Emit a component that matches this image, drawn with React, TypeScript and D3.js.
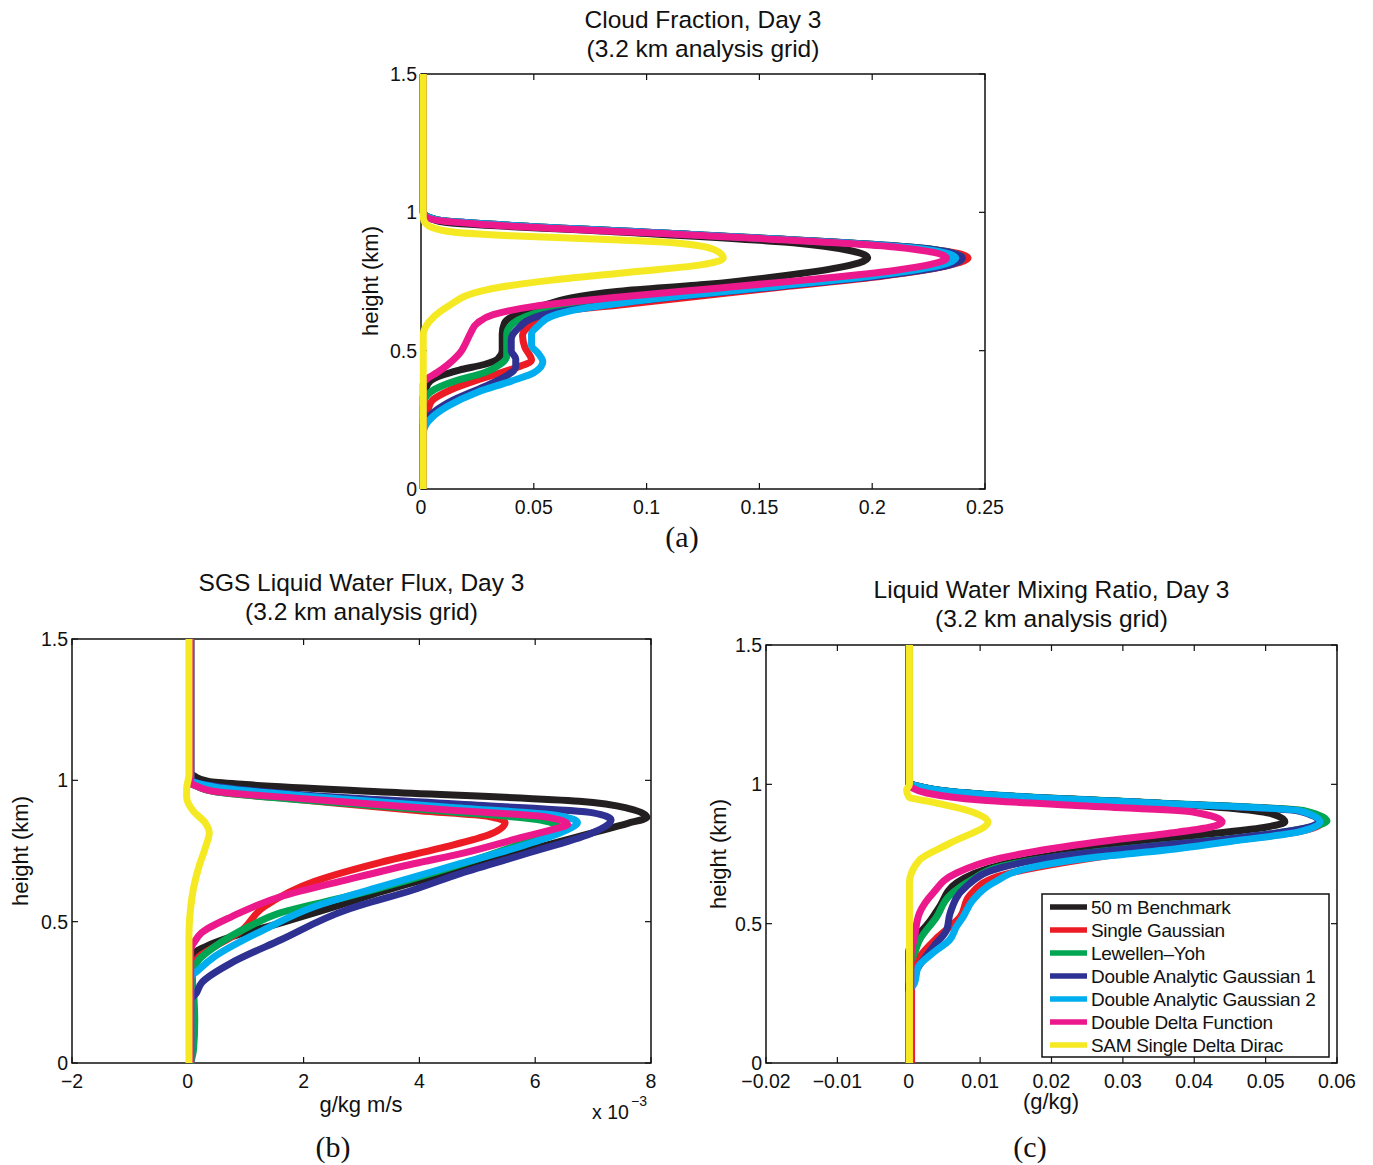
import React from "react";
import * as d3 from "d3";

type Pt = [number, number]; // [value, height km]

const seriesNames = [
  "50 m Benchmark",
  "Single Gaussian",
  "Lewellen\u2013Yoh",
  "Double Analytic Gaussian 1",
  "Double Analytic Gaussian 2",
  "Double Delta Function",
  "SAM Single Delta Dirac",
];
const seriesColors = ["#231f20", "#ed1c24", "#00a651", "#2e3192", "#00aeef", "#ec198c", "#f5e923"];

const heightTicks = [0, 0.5, 1, 1.5];
const heightTickLabels = ["0", "0.5", "1", "1.5"];

// (a) Cloud fraction
const cfTicks = [0, 0.05, 0.1, 0.15, 0.2, 0.25];
const cfTickLabels = ["0", "0.05", "0.1", "0.15", "0.2", "0.25"];
const cfBenchmark: Pt[] = [[0.001,0],[0.001,0.33],[0.002,0.36],[0.004,0.39],[0.017,0.43],[0.028,0.45],[0.034,0.47],[0.036,0.5],[0.036,0.56],[0.037,0.6],[0.051,0.655],[0.088,0.715],[0.127,0.74],[0.16,0.77],[0.185,0.8],[0.198,0.835],[0.19,0.862],[0.165,0.89],[0.088,0.929],[0.01,0.965],[0.003,0.983],[0.001,1.0],[0.001,1.5]];
const cfSingleGaussian: Pt[] = [[0.001,0],[0.001,0.25],[0.003,0.285],[0.005,0.32],[0.013,0.358],[0.025,0.394],[0.039,0.43],[0.049,0.466],[0.046,0.513],[0.045,0.555],[0.05,0.6],[0.06,0.64],[0.088,0.665],[0.16,0.73],[0.205,0.77],[0.232,0.805],[0.2425,0.835],[0.225,0.868],[0.12,0.92],[0.03,0.958],[0.008,0.972],[0.002,0.988],[0.001,1.0],[0.001,1.5]];
const cfLewellenYoh: Pt[] = [[0.001,0],[0.001,0.3],[0.002,0.33],[0.006,0.36],[0.015,0.39],[0.028,0.42],[0.035,0.45],[0.038,0.48],[0.038,0.52],[0.038,0.56],[0.041,0.6],[0.055,0.645],[0.088,0.69],[0.16,0.74],[0.205,0.775],[0.232,0.807],[0.24,0.835],[0.224,0.869],[0.12,0.92],[0.03,0.958],[0.008,0.972],[0.002,0.988],[0.001,1.0],[0.001,1.5]];
const cfDoubleGaussian1: Pt[] = [[0.001,0],[0.001,0.23],[0.002,0.25],[0.006,0.28],[0.014,0.32],[0.028,0.37],[0.038,0.41],[0.042,0.44],[0.042,0.47],[0.04,0.5],[0.04,0.54],[0.043,0.58],[0.052,0.625],[0.088,0.672],[0.16,0.733],[0.205,0.772],[0.232,0.805],[0.24,0.835],[0.224,0.869],[0.12,0.92],[0.03,0.958],[0.008,0.972],[0.002,0.988],[0.001,1.0],[0.001,1.5]];
const cfDoubleGaussian2: Pt[] = [[0.001,0],[0.001,0.2],[0.002,0.23],[0.005,0.26],[0.012,0.3],[0.025,0.35],[0.04,0.39],[0.05,0.42],[0.054,0.46],[0.052,0.49],[0.049,0.52],[0.049,0.56],[0.052,0.59],[0.058,0.625],[0.07,0.65],[0.092,0.676],[0.16,0.735],[0.2,0.77],[0.225,0.8],[0.237,0.835],[0.22,0.87],[0.12,0.92],[0.03,0.958],[0.008,0.972],[0.002,0.988],[0.001,1.0],[0.001,1.5]];
const cfDoubleDelta: Pt[] = [[0.001,0],[0.001,0.38],[0.003,0.4],[0.007,0.42],[0.012,0.45],[0.016,0.48],[0.018,0.5],[0.02,0.53],[0.022,0.564],[0.025,0.6],[0.032,0.63],[0.05,0.66],[0.088,0.694],[0.13,0.725],[0.17,0.755],[0.21,0.79],[0.233,0.835],[0.21,0.875],[0.12,0.918],[0.03,0.955],[0.008,0.97],[0.002,0.985],[0.001,1.0],[0.001,1.5]];
const cfSAM: Pt[] = [[0.001,0],[0.001,0.56],[0.002,0.585],[0.006,0.625],[0.0115,0.658],[0.029,0.72],[0.058,0.755],[0.088,0.78],[0.124,0.81],[0.134,0.835],[0.13,0.865],[0.112,0.89],[0.088,0.9],[0.04,0.915],[0.014,0.929],[0.005,0.945],[0.002,0.96],[0.001,0.98],[0.001,1.5]];

// (b) SGS liquid water flux, in units of 1e-3 g/kg m/s
const lwfTicks = [-2, 0, 2, 4, 6, 8];
const lwfTickLabels = ["\u22122", "0", "2", "4", "6", "8"];
const lwfBenchmark: Pt[] = [[0.05,0],[0.05,0.35],[0.08,0.37],[0.12,0.39],[0.3,0.411],[0.76,0.447],[1.61,0.496],[2.76,0.567],[3.33,0.605],[4.7,0.685],[6.0,0.76],[7.0,0.815],[7.6,0.848],[7.93,0.869],[7.62,0.9],[6.76,0.926],[3.5,0.958],[1.0,0.985],[0.36,0.996],[0.12,1.014],[0.05,1.03],[0.05,1.5]];
const lwfSingleGaussian: Pt[] = [[0.05,0],[0.05,0.3],[0.1,0.34],[0.19,0.376],[0.46,0.411],[0.88,0.461],[1.32,0.553],[2.18,0.642],[3.33,0.71],[4.36,0.76],[5.22,0.809],[5.48,0.851],[5.2,0.872],[4.0,0.892],[2.0,0.93],[0.46,0.96],[0.15,0.98],[0.05,0.99],[0.05,1.5]];
const lwfLewellenYoh: Pt[] = [[0.05,0],[0.1,0.05],[0.12,0.15],[0.1,0.25],[0.08,0.3],[0.1,0.33],[0.19,0.365],[0.46,0.411],[1.05,0.482],[1.61,0.532],[2.76,0.589],[4.7,0.702],[5.8,0.78],[6.2,0.815],[6.39,0.837],[6.0,0.862],[4.5,0.89],[2.0,0.93],[0.46,0.96],[0.15,0.98],[0.05,0.99],[0.05,1.5]];
const lwfDoubleGaussian1: Pt[] = [[0.05,0],[0.05,0.22],[0.15,0.248],[0.24,0.284],[0.76,0.355],[1.61,0.436],[2.76,0.543],[3.9,0.613],[4.7,0.67],[6.0,0.75],[7.0,0.815],[7.31,0.86],[7.0,0.885],[5.0,0.912],[2.0,0.948],[0.5,0.978],[0.15,0.992],[0.05,1.005],[0.05,1.5]];
const lwfDoubleGaussian2: Pt[] = [[0.05,0],[0.05,0.3],[0.19,0.33],[0.46,0.376],[1.32,0.472],[2.18,0.553],[3.33,0.624],[4.7,0.705],[5.8,0.77],[6.5,0.82],[6.73,0.851],[6.4,0.875],[4.5,0.905],[2.0,0.945],[0.5,0.975],[0.15,0.99],[0.05,1.0],[0.05,1.5]];
const lwfDoubleDelta: Pt[] = [[0.05,0],[0.05,0.4],[0.12,0.43],[0.24,0.461],[0.76,0.518],[1.61,0.589],[2.76,0.649],[3.9,0.705],[4.7,0.74],[5.8,0.8],[6.37,0.83],[6.56,0.844],[6.2,0.87],[4.5,0.895],[2.0,0.935],[0.46,0.961],[0.15,0.98],[0.05,0.99],[0.05,1.5]];
const lwfSAM: Pt[] = [[0.02,0],[0.02,0.45],[0.05,0.55],[0.1,0.62],[0.2,0.7],[0.3,0.76],[0.37,0.815],[0.3,0.85],[0.1,0.89],[-0.02,0.94],[-0.02,0.97],[0.02,1.02],[0.02,1.5]];

// (c) Liquid water mixing ratio, g/kg
const lwmrTicks = [-0.02, -0.01, 0, 0.01, 0.02, 0.03, 0.04, 0.05, 0.06];
const lwmrTickLabels = ["\u22120.02", "\u22120.01", "0", "0.01", "0.02", "0.03", "0.04", "0.05", "0.06"];
const lwmrBenchmark: Pt[] = [[0,0],[0,0.4],[0.0011,0.452],[0.003,0.51],[0.0043,0.56],[0.0067,0.646],[0.0128,0.71],[0.0264,0.771],[0.0314,0.79],[0.0408,0.818],[0.0502,0.847],[0.0527,0.865],[0.051,0.893],[0.035,0.932],[0.015,0.956],[0.005,0.976],[0.001,0.995],[0,1.005],[0,1.5]];
const lwmrSingleGaussian: Pt[] = [[0.0004,0],[0.0004,0.3],[0.0015,0.38],[0.004,0.45],[0.0072,0.524],[0.0085,0.6],[0.0125,0.67],[0.022,0.72],[0.034,0.765],[0.046,0.8],[0.0555,0.835],[0.058,0.866],[0.055,0.905],[0.035,0.932],[0.015,0.956],[0.005,0.976],[0.001,0.995],[0,1.005],[0,1.5]];
const lwmrLewellenYoh: Pt[] = [[0,0],[0,0.35],[0.0006,0.38],[0.0015,0.441],[0.0039,0.524],[0.0057,0.6],[0.009,0.66],[0.0128,0.705],[0.0264,0.758],[0.036,0.783],[0.047,0.81],[0.055,0.84],[0.0586,0.868],[0.0555,0.905],[0.035,0.933],[0.015,0.957],[0.005,0.977],[0.001,0.995],[0,1.005],[0,1.5]];
const lwmrDoubleGaussian1: Pt[] = [[0,0],[0,0.28],[0.0011,0.334],[0.0034,0.416],[0.0053,0.477],[0.0058,0.538],[0.008,0.632],[0.0128,0.7],[0.022,0.745],[0.033,0.775],[0.045,0.805],[0.054,0.835],[0.0575,0.866],[0.0545,0.905],[0.035,0.932],[0.015,0.956],[0.005,0.976],[0.001,0.995],[0,1.005],[0,1.5]];
const lwmrDoubleGaussian2: Pt[] = [[0,0],[0,0.25],[0.0008,0.287],[0.0013,0.344],[0.0034,0.395],[0.0057,0.441],[0.0067,0.49],[0.0076,0.524],[0.009,0.585],[0.0118,0.646],[0.0174,0.703],[0.0264,0.739],[0.036,0.764],[0.045,0.795],[0.0548,0.83],[0.0576,0.866],[0.0548,0.905],[0.035,0.932],[0.015,0.956],[0.005,0.976],[0.001,0.995],[0,1.005],[0,1.5]];
const lwmrDoubleDelta: Pt[] = [[0.0003,0],[0.0003,0.38],[0.0008,0.45],[0.0015,0.538],[0.0034,0.61],[0.0067,0.682],[0.0128,0.735],[0.0264,0.793],[0.036,0.823],[0.042,0.845],[0.0439,0.865],[0.04,0.9],[0.025,0.922],[0.01,0.944],[0.0025,0.969],[0.0005,0.987],[0,1.0],[0,1.5]];
const lwmrSAM: Pt[] = [[0.0001,0],[0.0001,0.55],[0.0001,0.646],[0.0015,0.728],[0.0058,0.789],[0.0111,0.865],[0.009,0.9],[0.0035,0.935],[0,0.955],[-0.0003,0.98],[0.0001,1.0],[0.0001,1.5]];

const SANS = "'Liberation Sans', Arial, Helvetica, sans-serif";
const SERIF = "'Liberation Serif', 'Times New Roman', serif";

type PanelProps = {
  box: { left: number; right: number; top: number; bottom: number };
  xDomain: [number, number];
  xTicks: number[];
  xTickLabels: string[];
  series: Pt[][];
  title: string[];
  titleY: number;
};

function Panel({ box, xDomain, xTicks, xTickLabels, series, title, titleY }: PanelProps) {
  const x = d3.scaleLinear().domain(xDomain).range([box.left, box.right]);
  const y = d3.scaleLinear().domain([0, 1.5]).range([box.bottom, box.top]);
  const line = d3
    .line<Pt>()
    .x((d) => x(d[0]))
    .y((d) => y(d[1]))
    .curve(d3.curveMonotoneY);
  const tl = 6;
  const cx = (box.left + box.right) / 2;
  return (
    <g>
      {title.map((t, i) => (
        <text key={i} x={cx} y={titleY + i * 29} textAnchor="middle" fontFamily={SANS} fontSize={24.5} fill="#111">
          {t}
        </text>
      ))}
      <rect x={box.left} y={box.top} width={box.right - box.left} height={box.bottom - box.top} fill="white" stroke="#111" strokeWidth={1.5} />
      {xTicks.map((v, i) => (
        <g key={"x" + i}>
          <line x1={x(v)} x2={x(v)} y1={box.bottom} y2={box.bottom - tl} stroke="#111" strokeWidth={1.2} />
          <line x1={x(v)} x2={x(v)} y1={box.top} y2={box.top + tl} stroke="#111" strokeWidth={1.2} />
          <text x={x(v)} y={box.bottom + 25} textAnchor="middle" fontFamily={SANS} fontSize={19.5} fill="#111">
            {xTickLabels[i]}
          </text>
        </g>
      ))}
      {heightTicks.map((v, i) => (
        <g key={"y" + i}>
          <line x1={box.left} x2={box.left + tl} y1={y(v)} y2={y(v)} stroke="#111" strokeWidth={1.2} />
          <line x1={box.right} x2={box.right - tl} y1={y(v)} y2={y(v)} stroke="#111" strokeWidth={1.2} />
          <text x={box.left - 4} y={y(v) + 7} textAnchor="end" fontFamily={SANS} fontSize={19.5} fill="#111">
            {heightTickLabels[i]}
          </text>
        </g>
      ))}
      {series.map((s, i) => (
        <path key={"s" + i} d={line(s) || ""} fill="none" stroke={seriesColors[i]} strokeWidth={7} strokeLinejoin="round" strokeLinecap="butt" />
      ))}
    </g>
  );
}

function YLabel({ x, y }: { x: number; y: number }) {
  return (
    <text x={x} y={y} transform={`rotate(-90, ${x}, ${y})`} textAnchor="middle" fontFamily={SANS} fontSize={22} fill="#111">
      height (km)
    </text>
  );
}

export default function App() {
  const boxA = { left: 421, right: 985, top: 74, bottom: 489 };
  const boxB = { left: 72, right: 651, top: 639, bottom: 1063 };
  const boxC = { left: 766, right: 1337, top: 645, bottom: 1063 };
  const legend = { left: 1042, top: 894, width: 287, height: 163, row: 23 };
  return (
    <svg width={1373} height={1165} style={{ display: "block", position: "absolute", left: 0, top: 0, background: "white" }}>
      <rect x={0} y={0} width={1373} height={1165} fill="white" />
      <Panel
        box={boxA}
        xDomain={[0, 0.25]}
        xTicks={cfTicks}
        xTickLabels={cfTickLabels}
        series={[cfBenchmark, cfSingleGaussian, cfLewellenYoh, cfDoubleGaussian1, cfDoubleGaussian2, cfDoubleDelta, cfSAM]}
        title={["Cloud Fraction, Day 3", "(3.2 km analysis grid)"]}
        titleY={28}
      />
      <YLabel x={378} y={281} />
      <text x={682} y={547} textAnchor="middle" fontFamily={SERIF} fontSize={30} fill="#111">(a)</text>

      <Panel
        box={boxB}
        xDomain={[-2, 8]}
        xTicks={lwfTicks}
        xTickLabels={lwfTickLabels}
        series={[lwfBenchmark, lwfSingleGaussian, lwfLewellenYoh, lwfDoubleGaussian1, lwfDoubleGaussian2, lwfDoubleDelta, lwfSAM]}
        title={["SGS Liquid Water Flux, Day 3", "(3.2 km analysis grid)"]}
        titleY={591}
      />
      <YLabel x={28} y={851} />
      <text x={361} y={1112} textAnchor="middle" fontFamily={SANS} fontSize={22} fill="#111">g/kg m/s</text>
      <text x={592} y={1119} fontFamily={SANS} fontSize={19.5} fill="#111">x 10</text>
      <text x={631} y={1106} fontFamily={SANS} fontSize={14} fill="#111">{"\u22123"}</text>
      <text x={333} y={1157} textAnchor="middle" fontFamily={SERIF} fontSize={30} fill="#111">(b)</text>

      <Panel
        box={boxC}
        xDomain={[-0.02, 0.06]}
        xTicks={lwmrTicks}
        xTickLabels={lwmrTickLabels}
        series={[lwmrBenchmark, lwmrSingleGaussian, lwmrLewellenYoh, lwmrDoubleGaussian1, lwmrDoubleGaussian2, lwmrDoubleDelta, lwmrSAM]}
        title={["Liquid Water Mixing Ratio, Day 3", "(3.2 km analysis grid)"]}
        titleY={598}
      />
      <YLabel x={726} y={854} />
      <text x={1051} y={1109} textAnchor="middle" fontFamily={SANS} fontSize={22} fill="#111">(g/kg)</text>
      <text x={1030} y={1157} textAnchor="middle" fontFamily={SERIF} fontSize={30} fill="#111">(c)</text>

      <g>
        <rect x={legend.left} y={legend.top} width={legend.width} height={legend.height} fill="white" stroke="#111" strokeWidth={1.5} />
        {seriesNames.map((n, i) => {
          const yy = legend.top + 13 + i * legend.row;
          return (
            <g key={n}>
              <line x1={legend.left + 8} x2={legend.left + 45} y1={yy} y2={yy} stroke={seriesColors[i]} strokeWidth={5.5} />
              <text x={legend.left + 49} y={yy + 7} fontFamily={SANS} fontSize={19} fill="#111" letterSpacing={-0.3}>
                {n}
              </text>
            </g>
          );
        })}
      </g>
    </svg>
  );
}
